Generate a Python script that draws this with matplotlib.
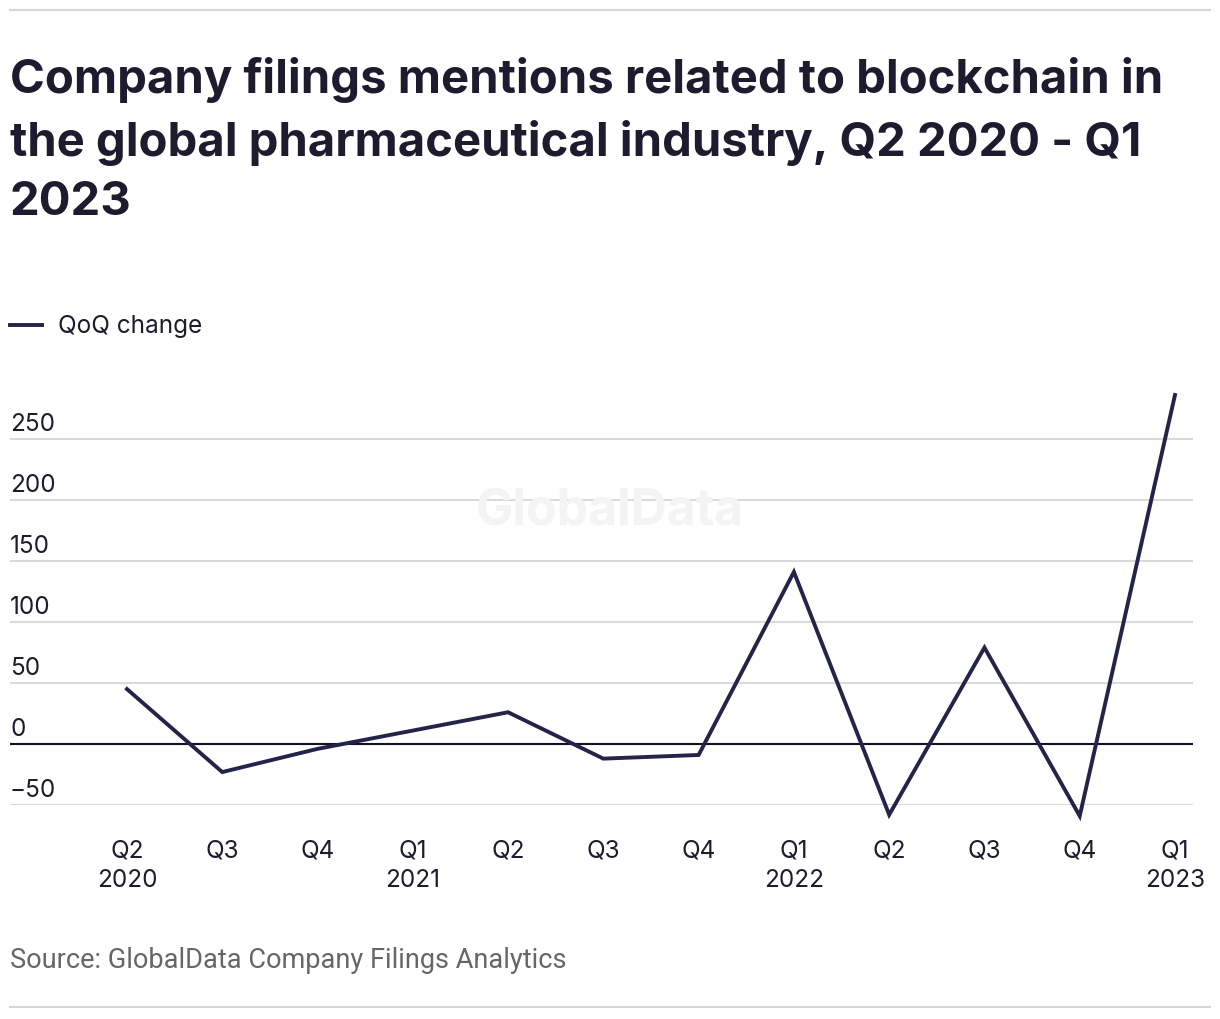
import numpy as np
import matplotlib.pyplot as plt
from matplotlib.lines import Line2D

plt.rcParams['font.family'] = ['Inter', 'DejaVu Sans']

# Data
quarters = ["Q2\n2020", "Q3", "Q4", "Q1\n2021", "Q2", "Q3", "Q4",
            "Q1\n2022", "Q2", "Q3", "Q4", "Q1\n2023"]
qoq_change = [45, -23, -4, 11, 26, -12, -9, 141, -58, 79, -59, 286]
y_ticks = [-50, 0, 50, 100, 150, 200, 250]
y_tick_labels = ["\u221250", "0", "50", "100", "150", "200", "250"]

line_color = "#24244a"
text_color = "#1c1c2e"

fig = plt.figure(figsize=(12.2, 10.2), dpi=100)

# Plot area
ax = fig.add_axes([10 / 1220, 1 - 806 / 1020, 1183 / 1220, 421 / 1020])
x = np.arange(len(quarters))
ax.set_xlim(-117 / 95.3, 11 + 18 / 95.3)
ax.set_ylim(-50, 295)

for v in y_ticks:
    if v == 0:
        ax.axhline(v, color="#111122", lw=1.5, zorder=2)
    else:
        ax.axhline(v, color="#dadada", lw=1.5, zorder=1)

for v, lab in zip(y_ticks, y_tick_labels):
    ax.annotate(lab, xy=(0, v), xycoords=("axes fraction", "data"),
                xytext=(0, 3), textcoords="offset points",
                ha="left", va="bottom", fontsize=17.5, color=text_color)

ax.plot(x, qoq_change, color=line_color, lw=2.8, zorder=3,
        solid_joinstyle="miter", clip_on=False)

ax.set_xticks(x)
ax.set_xticklabels(quarters, fontsize=17.5, color=text_color, linespacing=1.37)
ax.tick_params(axis="x", length=0, pad=24)
ax.set_yticks([])
for s in ax.spines.values():
    s.set_visible(False)
ax.set_facecolor("none")

# Watermark
fig.text(610 / 1220, 1 - 512 / 1020, "GlobalData", ha="center", va="center",
         fontsize=36, fontweight="bold", color="#f4f4f4", zorder=0)

# Title
fig.text(10 / 1220, 1 - 57 / 1020,
         "Company filings mentions related to blockchain in\n"
         "the global pharmaceutical industry, Q2 2020 - Q1\n2023",
         ha="left", va="top", fontsize=34, fontweight="bold",
         color=text_color, linespacing=1.46)

# Legend
fig.add_artist(Line2D([10 / 1220, 42 / 1220], [1 - 326 / 1020] * 2,
                      color=line_color, lw=2.8))
fig.text(58 / 1220, 1 - 327 / 1020, "QoQ change", ha="left", va="center",
         fontsize=17.5, color=text_color)

# Source
fig.text(10 / 1220, 1 - 961 / 1020, "Source: GlobalData Company Filings Analytics",
         ha="left", va="center", fontsize=19.5, color="#666666",
         family=["Roboto", "DejaVu Sans"])

# Top and bottom rules
fig.add_artist(Line2D([10 / 1220, 1210 / 1220], [1 - 11 / 1020] * 2,
                      color="#d6d6d6", lw=1.5))
fig.add_artist(Line2D([10 / 1220, 1210 / 1220], [1 - 1008 / 1020] * 2,
                      color="#d6d6d6", lw=1.5))

fig.savefig("out.png", dpi=100, facecolor="white")
